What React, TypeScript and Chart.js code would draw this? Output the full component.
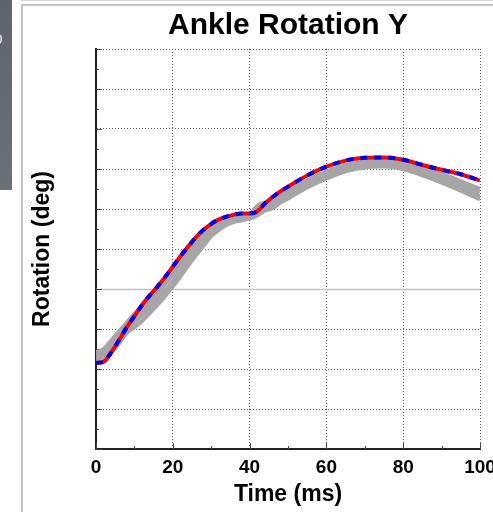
import React, { useEffect, useRef } from "react";
import { Chart, registerables } from "chart.js";

Chart.register(...registerables);

const chartTitle = "Ankle Rotation Y";
const xTitle = "Time (ms)";
const yTitle = "Rotation (deg)";

const timeMs = [0, 2, 4, 6, 8, 10, 12, 14, 16, 18, 20, 22, 24, 26, 28, 30, 32, 34, 36, 38, 40, 42, 44, 46, 48, 50, 55, 60, 65, 70, 75, 80, 85, 90, 95, 100];

const meanRotation = [-18.5, -18.2, -15.8, -12.8, -9.6, -6.8, -4.0, -1.6, 0.6, 3.0, 5.6, 8.2, 10.6, 12.9, 14.8, 16.3, 17.4, 18.1, 18.6, 18.9, 18.9, 19.4, 21.4, 23.0, 24.4, 25.6, 28.4, 30.6, 32.1, 32.8, 32.9, 32.3, 31.0, 29.8, 28.7, 27.1];

const trial1 = [-15.8, -15.0, -12.8, -10.6, -8.4, -6.2, -4.2, -2.2, 0.0, 2.4, 4.8, 7.4, 9.8, 12.0, 13.8, 15.4, 16.6, 17.6, 18.2, 18.6, 18.8, 20.8, 21.6, 22.2, 23.4, 24.6, 27.2, 29.4, 31.0, 31.8, 32.0, 31.6, 30.4, 28.8, 27.0, 25.0];
const trial2 = [-16.6, -15.8, -13.6, -11.4, -9.2, -7.2, -5.4, -3.4, -1.2, 1.2, 3.6, 6.2, 8.6, 10.8, 12.8, 14.6, 16.0, 17.0, 17.6, 18.0, 18.2, 20.2, 21.0, 21.6, 22.8, 24.0, 26.6, 28.8, 30.4, 31.2, 31.4, 31.0, 29.8, 28.0, 26.2, 24.2];
const trial3 = [-17.4, -16.8, -14.6, -12.4, -10.0, -8.4, -6.6, -4.8, -2.6, -0.4, 2.0, 4.6, 7.2, 9.6, 11.8, 13.8, 15.4, 16.4, 17.2, 17.6, 17.8, 19.0, 20.2, 20.8, 22.2, 23.2, 26.0, 28.2, 29.8, 30.8, 31.0, 30.4, 29.0, 27.4, 25.4, 23.2];
const trial4 = [-18.2, -17.8, -15.8, -13.6, -11.0, -9.6, -8.0, -6.0, -4.0, -1.8, 0.6, 3.2, 5.8, 8.4, 10.8, 13.2, 14.8, 16.0, 16.8, 17.2, 17.6, 18.4, 19.6, 20.2, 21.6, 22.6, 25.4, 27.6, 29.4, 30.4, 30.6, 30.0, 28.4, 26.6, 24.6, 22.4];

const xMin = 0;
const xMax = 100;
const xStep = 20;
const yMin = -40;
const yMax = 60;
const yStep = 10;

const FONT = "'Liberation Sans', Arial, Helvetica, sans-serif";

const toPoints = (ys: number[]) => timeMs.map((x, i) => ({ x, y: ys[i] }));

const innerTicks = {
  id: "innerTicks",
  beforeDatasetsDraw(chart: any) {
    const { ctx, chartArea, scales } = chart;
    const { left, right, bottom } = chartArea;
    const xs = scales.x;
    const ys = scales.y;
    ctx.save();
    const y0 = Math.round(ys.getPixelForValue(0)) + 0.5;
    ctx.strokeStyle = "#c0c0c0";
    ctx.lineWidth = 1.5;
    ctx.beginPath();
    ctx.moveTo(left, y0);
    ctx.lineTo(right, y0);
    ctx.stroke();
    ctx.strokeStyle = "#444";
    ctx.lineWidth = 1;
    const yt = ys.ticks.map((t: any) => t.value);
    ctx.beginPath();
    yt.forEach((v: number, i: number) => {
      const p = Math.round(ys.getPixelForValue(v)) + 0.5;
      ctx.moveTo(left, p);
      ctx.lineTo(left + 6, p);
      if (i < yt.length - 1) {
        const m = Math.round(ys.getPixelForValue((v + yt[i + 1]) / 2)) + 0.5;
        ctx.moveTo(left, m);
        ctx.lineTo(left + 3, m);
      }
    });
    const xt = xs.ticks.map((t: any) => t.value);
    xt.forEach((v: number, i: number) => {
      const p = Math.round(xs.getPixelForValue(v)) + 0.5;
      ctx.moveTo(p, bottom);
      ctx.lineTo(p, bottom - 6);
      if (i < xt.length - 1) {
        const m = Math.round(xs.getPixelForValue((v + xt[i + 1]) / 2)) + 0.5;
        ctx.moveTo(m, bottom);
        ctx.lineTo(m, bottom - 3);
      }
    });
    ctx.stroke();
    ctx.restore();
  },
};

export default function App() {
  const canvasRef = useRef<HTMLCanvasElement | null>(null);

  useEffect(() => {
    const canvas = canvasRef.current;
    if (!canvas) return;
    const gray = "#a6a6a6";
    const common = { pointRadius: 0, cubicInterpolationMode: "monotone" as const, fill: false };
    const chart = new Chart(canvas, {
      type: "line",
      data: {
        datasets: [
          { label: "mean-dash", data: toPoints(meanRotation), borderColor: "#0000ff", borderWidth: 4, borderDash: [7, 7], ...common },
          { label: "mean", data: toPoints(meanRotation), borderColor: "#ff0000", borderWidth: 4, ...common },
          { label: "t1", data: toPoints(trial1), borderColor: gray, borderWidth: 4, ...common },
          { label: "t2", data: toPoints(trial2), borderColor: gray, borderWidth: 4, ...common },
          { label: "t3", data: toPoints(trial3), borderColor: gray, borderWidth: 4, ...common },
          { label: "t4", data: toPoints(trial4), borderColor: gray, borderWidth: 4, ...common },
        ],
      },
      options: {
        animation: false,
        responsive: false,
        maintainAspectRatio: false,
        layout: { padding: { left: 0, right: 43, top: 0, bottom: 0 } },
        plugins: {
          legend: { display: false },
          tooltip: { enabled: false },
          title: {
            display: true,
            fullSize: false,
            text: chartTitle,
            color: "#000",
            font: { family: FONT, size: 30, weight: "bold" },
            padding: { top: 2, bottom: 5 },
          },
        },
        scales: {
          x: {
            type: "linear",
            min: xMin,
            max: xMax,
            ticks: {
              stepSize: xStep,
              color: "#000",
              font: { family: FONT, size: 19, weight: "bold" },
              padding: 7,
              maxRotation: 0,
            },
            grid: { color: "#606060", lineWidth: 1, drawTicks: false },
            border: { display: true, color: "#222", width: 2, dash: [1, 2] },
            title: {
              display: true,
              text: xTitle,
              color: "#000",
              font: { family: FONT, size: 23, weight: "bold" },
              padding: { top: 0, bottom: 4 },
            },
            afterFit: (s: any) => {
              s.height = 63;
            },
          },
          y: {
            type: "linear",
            min: yMin,
            max: yMax,
            ticks: { stepSize: yStep, display: false },
            grid: { color: "#606060", lineWidth: 1, drawTicks: false },
            border: { display: true, color: "#222", width: 2, dash: [1, 2] },
            title: {
              display: true,
              text: yTitle,
              color: "#000",
              font: { family: FONT, size: 23, weight: "bold" },
              padding: { top: 6, bottom: 0 },
            },
            afterFit: (s: any) => {
              s.width = 73;
            },
          },
        },
      },
      plugins: [innerTicks],
    });
    return () => chart.destroy();
  }, []);

  return (
    <div style={{ position: "fixed", left: 0, top: 0, width: 493, height: 512, overflow: "hidden", background: "#fff" }}>
      <div style={{ position: "absolute", left: 0, top: 0, width: 12, height: 190, background: "linear-gradient(180deg, #5d646d, #6a7179)" }} />
      <div style={{ position: "absolute", left: -6, top: 30, color: "#e8e8e8", fontFamily: FONT, fontSize: 15 }}>0</div>
      <div style={{ position: "absolute", left: 21, top: 0, width: 472, height: 1, background: "#d4d4d4" }} />
      <div style={{ position: "absolute", left: 21, top: 4, width: 472, height: 2, background: "#c4c4c4" }} />
      <div style={{ position: "absolute", left: 21, top: 4, width: 2, height: 508, background: "#c4c4c4" }} />
      <div style={{ position: "absolute", left: 23, top: 6, width: 500, height: 506 }}>
        <canvas ref={canvasRef} width={500} height={506} style={{ width: 500, height: 506, display: "block" }} />
      </div>
    </div>
  );
}
